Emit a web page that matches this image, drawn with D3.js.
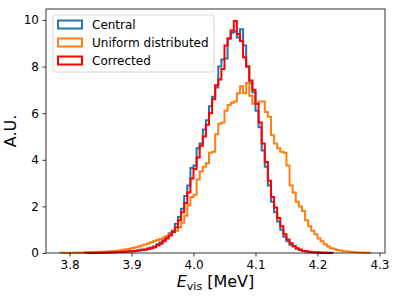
<!DOCTYPE html>
<html>
<head>
<meta charset="utf-8">
<script src="https://cdn.jsdelivr.net/npm/d3@7"></script>
<style>
  body { margin: 0; background: #fff; }
  text { font-family: "DejaVu Sans", sans-serif; }
</style>
</head>
<body>
<div id="chart"></div>
<script>
// CONSTANTS
const width = 399,
  height = 299,
  margin = { top: 9, right: 14, bottom: 46, left: 46 };

// DATA (density per bin)
const seriesNames = ["Central", "Uniform distributed", "Corrected"];
const seriesColors = ["#1f77b4", "#ff7f0e", "#ff0000"];
const binWidth = 0.005;
const centralStart = 3.825;   // first bin edge of Central / Corrected
const uniformStart = 3.785;   // first bin edge of Uniform distributed

const central = [
  0.01, 0.01, 0.00, 0.01, 0.02, 0.01, 0.02, 0.02, 0.03, 0.03,
  0.04, 0.05, 0.04, 0.06, 0.08, 0.07, 0.10, 0.12, 0.15, 0.14,
  0.20, 0.24, 0.28, 0.38, 0.45, 0.58, 0.70, 0.85, 0.95, 1.25,
  1.55, 1.90, 2.45, 2.90, 3.65, 3.75, 4.50, 4.70, 5.30, 5.70,
  6.30, 6.70, 7.10, 8.00, 8.30, 8.35, 9.20, 9.45, 9.50, 9.25,
  9.60, 8.90, 8.00, 7.30, 6.90, 6.10, 5.40, 4.40, 3.70, 2.90,
  2.20, 1.75, 1.35, 1.00, 0.70, 0.50, 0.35, 0.28, 0.18, 0.13,
  0.09, 0.06, 0.04, 0.03, 0.02, 0.02, 0.01, 0.01, 0.00, 0.01
];

const uniform = [
  0.01, 0.01, 0.00, 0.01, 0.01, 0.02, 0.01, 0.02, 0.02, 0.03,
  0.03, 0.04, 0.04, 0.05, 0.05, 0.06, 0.07, 0.09, 0.10, 0.12,
  0.14, 0.16, 0.18, 0.21, 0.25, 0.28, 0.32, 0.37, 0.41, 0.46,
  0.51, 0.56, 0.60, 0.67, 0.73, 0.80, 0.90, 0.95, 1.10, 1.30,
  1.60, 2.05, 2.40, 2.50, 3.15, 3.50, 3.70, 3.85, 4.30, 4.35,
  5.10, 5.55, 5.60, 6.10, 6.35, 6.45, 6.50, 6.85, 7.15, 6.85,
  7.30, 6.75, 6.40, 6.40, 6.50, 6.50, 6.05, 5.85, 5.05, 4.70,
  4.50, 4.35, 4.30, 3.75, 2.90, 2.60, 2.20, 2.00, 1.80, 1.40,
  1.15, 0.95, 0.80, 0.62, 0.50, 0.38, 0.28, 0.20, 0.18, 0.13,
  0.11, 0.08, 0.07, 0.05, 0.04, 0.03, 0.02, 0.02, 0.01, 0.01
];

const corrected = [
  0.01, 0.00, 0.01, 0.01, 0.01, 0.02, 0.02, 0.02, 0.03, 0.03,
  0.04, 0.04, 0.05, 0.06, 0.07, 0.08, 0.09, 0.11, 0.13, 0.15,
  0.17, 0.20, 0.25, 0.32, 0.40, 0.50, 0.62, 0.75, 0.90, 1.10,
  1.40, 1.75, 2.15, 2.60, 3.20, 3.60, 4.10, 4.60, 5.00, 5.50,
  6.00, 6.60, 7.20, 7.45, 7.90, 8.90, 9.20, 9.55, 9.95, 9.40,
  9.10, 8.40, 8.00, 7.40, 7.00, 6.40, 5.60, 4.70, 3.90, 3.10,
  2.40, 1.95, 1.50, 1.15, 0.80, 0.58, 0.42, 0.30, 0.20, 0.15,
  0.10, 0.07, 0.05, 0.03, 0.03, 0.02, 0.01, 0.01, 0.01, 0.00
];

const xTicks = [3.8, 3.9, 4.0, 4.1, 4.2, 4.3];
const yTicks = [0, 2, 4, 6, 8, 10];

// SCALES
const xScale = d3.scaleLinear()
  .domain([3.762, 4.309])
  .range([margin.left, width - margin.right]);

const yScale = d3.scaleLinear()
  .domain([0, 10.47])
  .range([height - margin.bottom, margin.top]);

const svg = d3.select("#chart")
  .append("svg")
  .attr("width", width)
  .attr("height", height);

// step outline like histtype="step"
function stepPoints(values, start) {
  const pts = [[start, 0]];
  values.forEach((v, i) => {
    pts.push([start + i * binWidth, v]);
    pts.push([start + (i + 1) * binWidth, v]);
  });
  pts.push([start + values.length * binWidth, 0]);
  return pts;
}

const line = d3.line()
  .x(d => xScale(d[0]))
  .y(d => yScale(d[1]));

const series = [
  { values: central, start: centralStart },
  { values: uniform, start: uniformStart },
  { values: corrected, start: centralStart }
];

svg.selectAll("path.hist")
  .data(series)
  .join("path")
  .attr("class", "hist")
  .attr("d", d => line(stepPoints(d.values, d.start)))
  .attr("fill", "none")
  .attr("stroke", (d, i) => seriesColors[i])
  .attr("stroke-width", 2)
  .attr("stroke-linejoin", "miter");

// AXES
const xAxis = d3.axisBottom(xScale)
  .tickValues(xTicks)
  .tickFormat(d3.format(".1f"))
  .tickSize(3.5)
  .tickPadding(3.5);

const yAxis = d3.axisLeft(yScale)
  .tickValues(yTicks)
  .tickSize(3.5)
  .tickPadding(3.5);

const gx = svg.append("g")
  .attr("transform", `translate(0,${height - margin.bottom})`)
  .call(xAxis);
const gy = svg.append("g")
  .attr("transform", `translate(${margin.left},0)`)
  .call(yAxis);

[gx, gy].forEach(g => {
  g.select(".domain").remove();
  g.selectAll(".tick line").attr("stroke", "#000").attr("stroke-width", 0.8);
  g.selectAll(".tick text")
    .attr("fill", "#000")
    .style("font-size", "12px")
    .style("font-family", "DejaVu Sans");
});

// frame (spines)
svg.append("rect")
  .attr("x", margin.left)
  .attr("y", margin.top)
  .attr("width", width - margin.left - margin.right)
  .attr("height", height - margin.top - margin.bottom)
  .attr("fill", "none")
  .attr("stroke", "#000")
  .attr("stroke-width", 0.8);

// axis labels
const xLabel = svg.append("text")
  .attr("x", (margin.left + width - margin.right) / 2)
  .attr("y", 287)
  .attr("text-anchor", "middle")
  .style("font-size", "16px");
xLabel.append("tspan").style("font-style", "italic").text("E");
xLabel.append("tspan").attr("dy", 3).style("font-size", "11px").text("vis");
xLabel.append("tspan").attr("dy", -3).text(" [MeV]");

svg.append("text")
  .attr("transform", `translate(16,${(margin.top + height - margin.bottom) / 2}) rotate(-90)`)
  .attr("text-anchor", "middle")
  .style("font-size", "16px")
  .text("A.U.");

// LEGEND
const legend = svg.append("g");
legend.append("rect")
  .attr("x", 53)
  .attr("y", 15)
  .attr("width", 161)
  .attr("height", 57)
  .attr("rx", 2.5)
  .attr("fill", "#fff")
  .attr("fill-opacity", 0.8)
  .attr("stroke", "#cccccc")
  .attr("stroke-width", 0.8);

const item = legend.selectAll("g.item")
  .data(seriesNames)
  .join("g")
  .attr("class", "item")
  .attr("transform", (d, i) => `translate(57,${24.5 + i * 18})`);

item.append("rect")
  .attr("x", 1)
  .attr("y", -4)
  .attr("width", 24)
  .attr("height", 8)
  .attr("fill", "none")
  .attr("stroke", (d, i) => seriesColors[i])
  .attr("stroke-width", 2);

item.append("text")
  .attr("x", 35)
  .attr("dy", "0.35em")
  .style("font-size", "12px")
  .text(d => d);
</script>
</body>
</html>
